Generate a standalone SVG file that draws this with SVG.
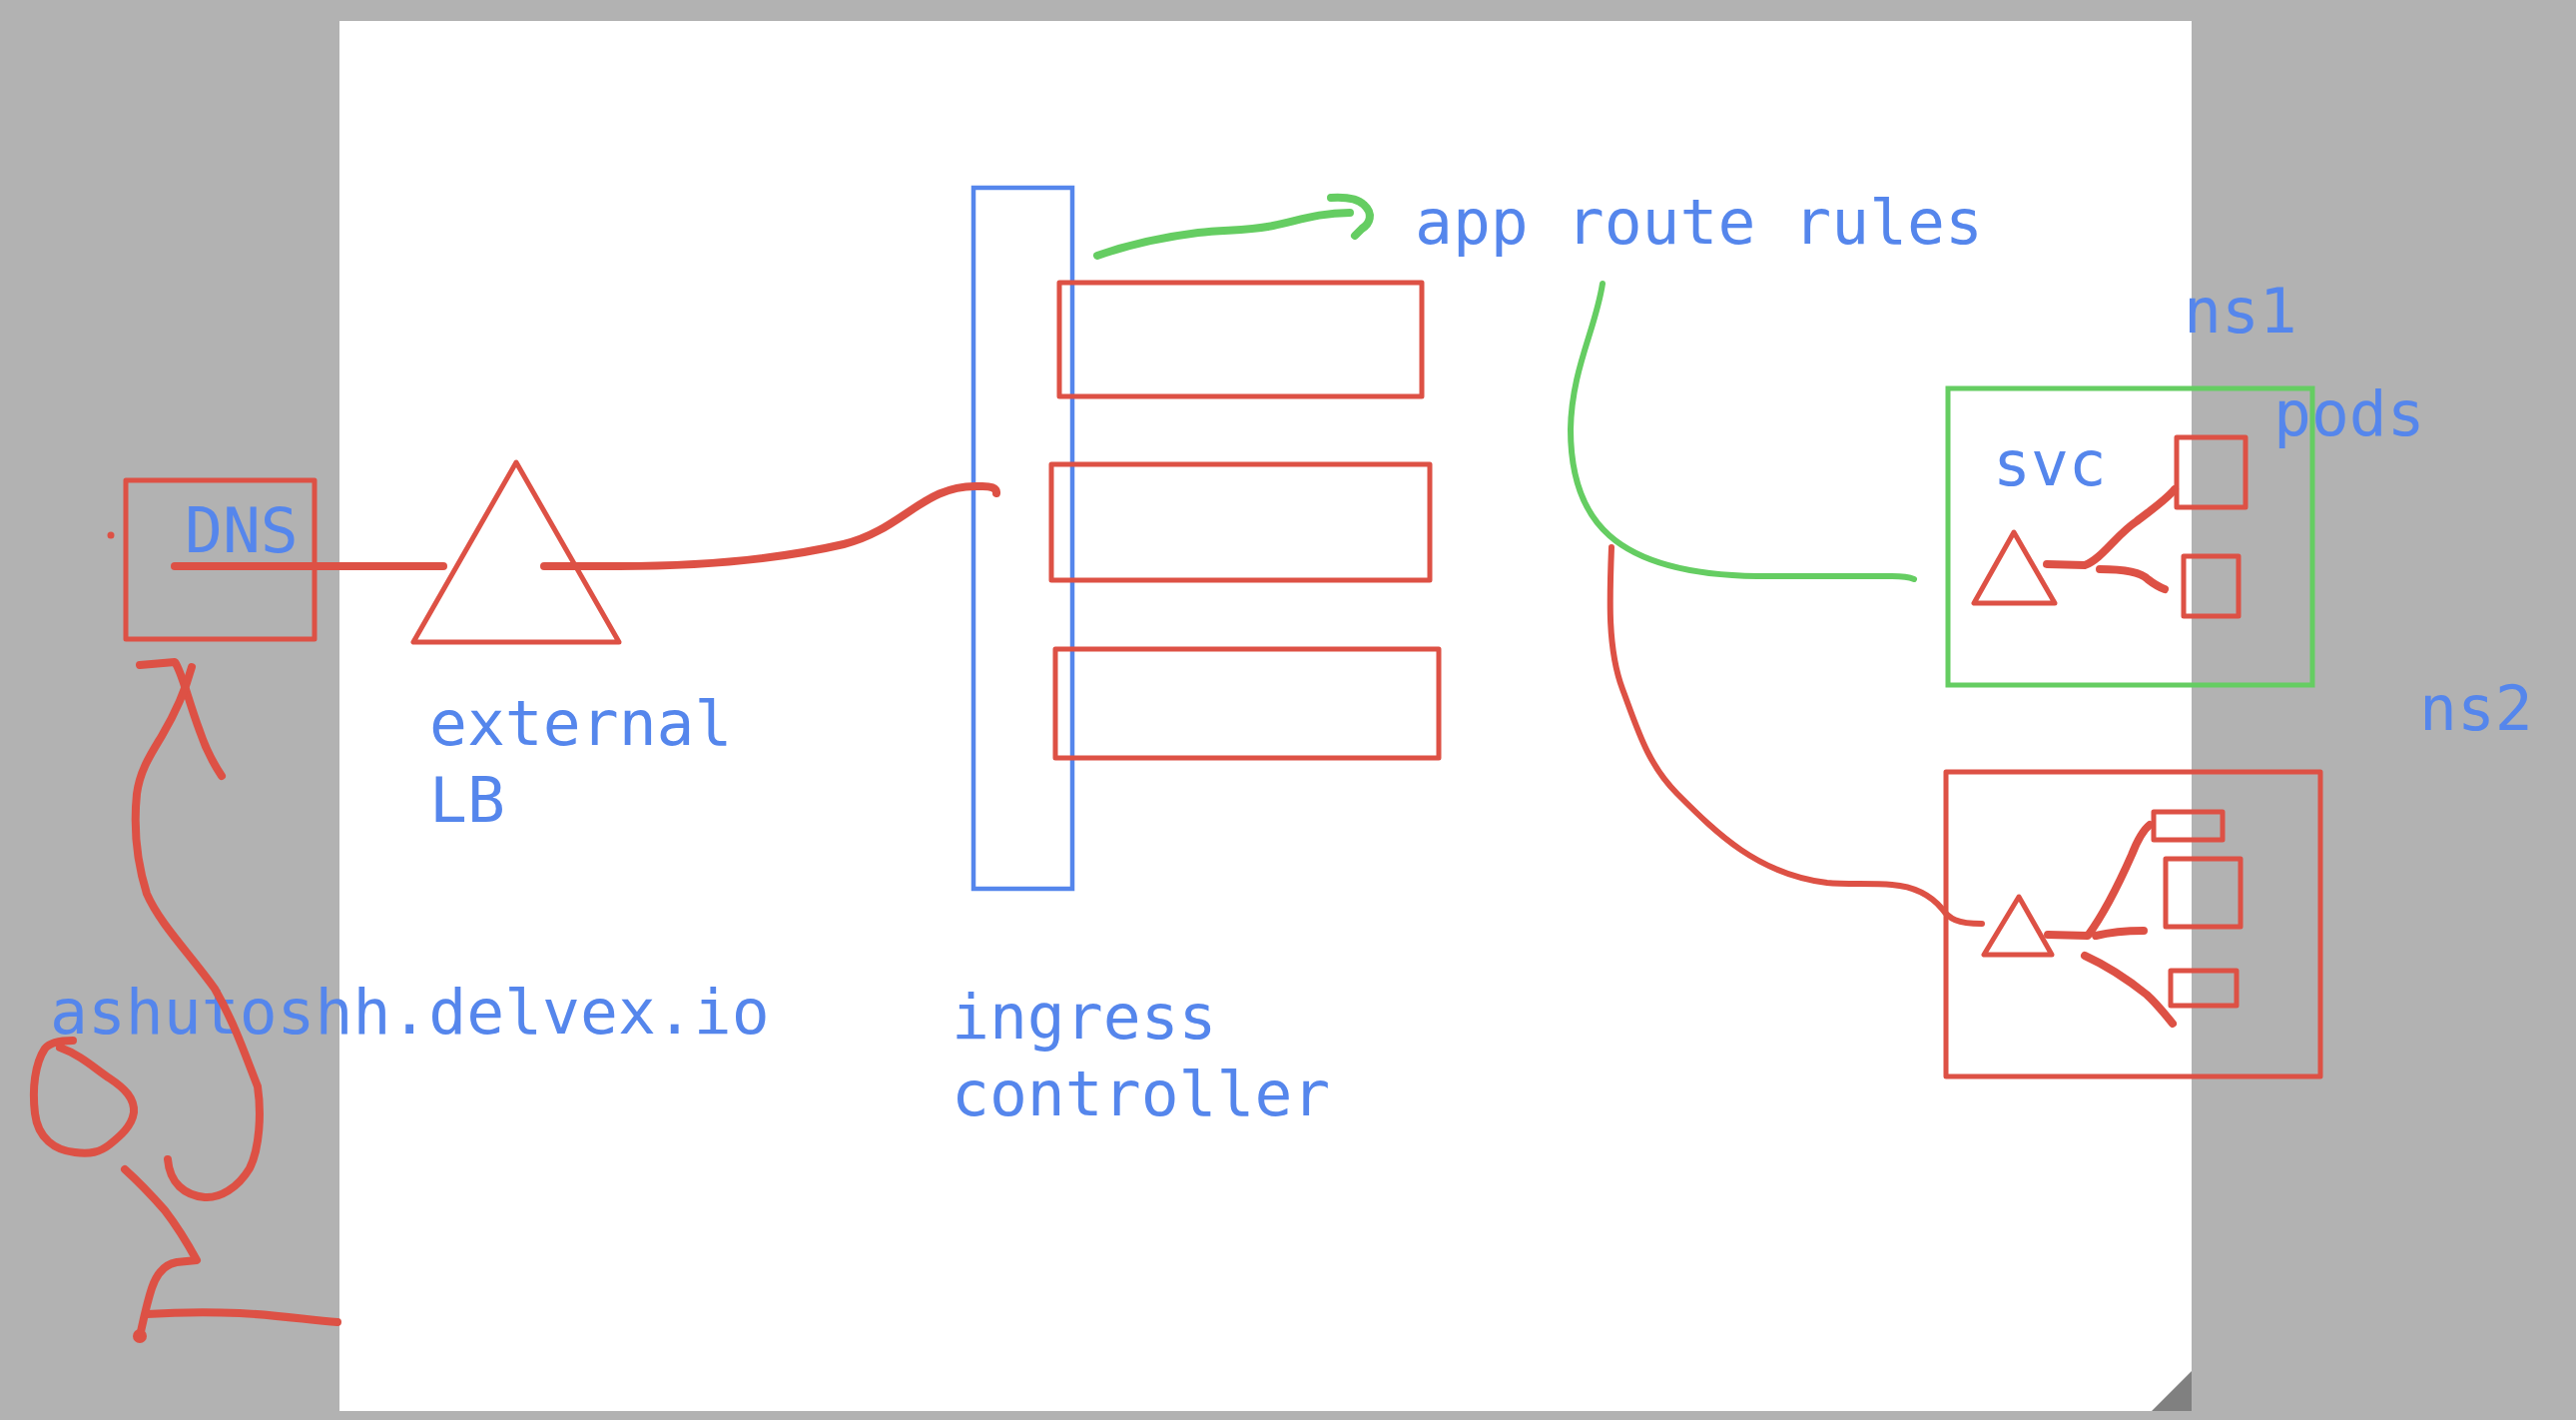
<svg xmlns="http://www.w3.org/2000/svg" width="2580" height="1422" viewBox="0 0 2580 1422">
<style>
.t{font-family:"DejaVu Sans Mono","Liberation Mono",monospace;font-size:63px;fill:#5586ec}
.r{fill:none;stroke:#dd5145;stroke-width:5;stroke-linejoin:round}
.rl{fill:none;stroke:#dd5145;stroke-width:8;stroke-linecap:round;stroke-linejoin:round}
.g{fill:none;stroke:#65cd62;stroke-width:5}
.gl{fill:none;stroke:#65cd62;stroke-width:8;stroke-linecap:round;stroke-linejoin:round}
.b{fill:none;stroke:#5586ec;stroke-width:4.5}
</style>
<rect x="0" y="0" width="2580" height="1422" fill="#b2b2b2"/>
<rect x="340" y="21" width="1855" height="1392" fill="#ffffff"/>
<polygon points="2155,1413 2195,1373 2195,1413" fill="#808080"/>

<g id="dns">
<rect class="r" x="126" y="481" width="189" height="159"/>
<circle cx="111" cy="536" r="3.5" fill="#dd5145"/>
<text class="t" x="185" y="553">DNS</text>
</g>

<g id="external-lb">
<polygon class="r" points="517,463 414,643 620,643"/>
<text class="t" x="430" y="746">external</text>
<text class="t" x="430" y="823">LB</text>
</g>

<g id="ingress-controller">
<rect class="b" x="975" y="188" width="99" height="702"/>
<rect class="r" x="1061" y="283" width="363" height="114"/>
<rect class="r" x="1053" y="465" width="379" height="116"/>
<rect class="r" x="1057" y="650" width="384" height="109"/>
<text class="t" x="953" y="1040">ingress</text>
<text class="t" x="953" y="1117">controller</text>
</g>

<g id="app-route-rules">
<text class="t" x="1417" y="244">app route rules</text>
</g>

<g id="ns1">
<text class="t" x="2187" y="333">ns1</text>
<rect class="g" x="1951" y="389" width="365" height="297"/>
<text class="t" x="1996" y="486">svc</text>
<polygon class="r" points="2017,533 1977,604 2058,604"/>
<rect class="r" x="2180" y="438" width="69" height="70"/>
<rect class="r" x="2187" y="557" width="55" height="60"/>
<text class="t" x="2277" y="436">pods</text>
<path class="rl" d="M2050,565 L2088,566 C2105,560 2120,535 2140,522 C2158,508 2170,500 2178,490"/>
<path class="rl" d="M2103,570 C2130,570 2145,574 2151,580 Q2160,587 2168,590"/>
</g>

<g id="ns2">
<text class="t" x="2423" y="731">ns2</text>
<rect class="r" x="1949" y="773" width="375" height="305"/>
<polygon class="r" points="2022,898 1987,956 2055,956"/>
<rect class="r" x="2157" y="813" width="69" height="28"/>
<rect class="r" x="2169" y="860" width="75" height="68"/>
<rect class="r" x="2174" y="972" width="66" height="35"/>
<path class="rl" d="M2051,936 L2091,937 C2105,918 2120,890 2135,856 C2142,838 2148,830 2153,826"/>
<path class="rl" d="M2099,937 C2115,933 2130,932 2147,932"/>
<path class="rl" d="M2088,957 C2110,967 2130,980 2150,996 C2160,1005 2168,1015 2176,1025"/>
</g>

<g id="domain">
<text class="t" x="50" y="1035">ashutoshh.delvex.io</text>
</g>

<g id="connectors">
<path class="rl" d="M175,567 L444,567"/>
<path class="rl" d="M545,567 L620,567 C700,567 780,560 845,545 C905,530 925,485 980,487 Q999,486 998,494"/>
<path class="gl" d="M1099,256 C1130,245 1160,238 1200,233 C1230,230 1250,231 1275,226 C1300,221 1320,213 1352,213"/>
<path class="gl" d="M1333,198 C1350,197 1360,199 1366,205 C1376,214 1372,224 1364,229 L1357,236"/>
<path fill="none" stroke="#65cd62" stroke-width="6" stroke-linecap="round" d="M1605,284 C1598,330 1574,370 1573,430 C1573,520 1615,575 1760,577 L1895,577 Q1910,577 1917,580"/>
<path fill="none" stroke="#dd5145" stroke-width="6" stroke-linecap="round" stroke-linejoin="round" d="M1614,548 C1612,600 1610,650 1625,690 C1640,730 1650,765 1680,795 C1720,835 1760,875 1830,884 C1850,886 1875,884 1895,886 C1920,888 1935,898 1945,910 C1952,920 1960,925 1985,925"/>
<path class="rl" d="M140,666 L175,663 C182,672 188,700 200,732 C206,750 214,765 222,777"/>
<path class="rl" d="M192,668 C186,690 175,715 162,737 C150,757 140,772 137,795 C134,825 136,860 147,895 C160,925 190,955 215,990 C235,1025 245,1055 258,1088 C262,1115 260,1150 250,1170 C238,1190 220,1200 205,1199 C185,1197 170,1185 168,1161"/>
<path class="rl" d="M73,1042 C60,1042 50,1044 45,1050 C35,1065 32,1090 35,1115 C38,1140 55,1152 75,1154 C90,1156 100,1154 110,1146 C120,1138 132,1128 134,1114 C135,1100 125,1090 110,1080 C95,1070 80,1056 60,1049"/>
<path class="rl" d="M125,1171 C135,1180 150,1195 165,1212 C175,1225 185,1240 197,1262 L177,1264 C165,1266 157,1275 152,1290 C147,1305 144,1320 140,1338"/>
<circle cx="140" cy="1338" r="7" fill="#dd5145"/>
<path class="rl" d="M147,1316 C180,1314 210,1314 240,1315 C280,1317 310,1322 338,1324"/>
</g>
</svg>
